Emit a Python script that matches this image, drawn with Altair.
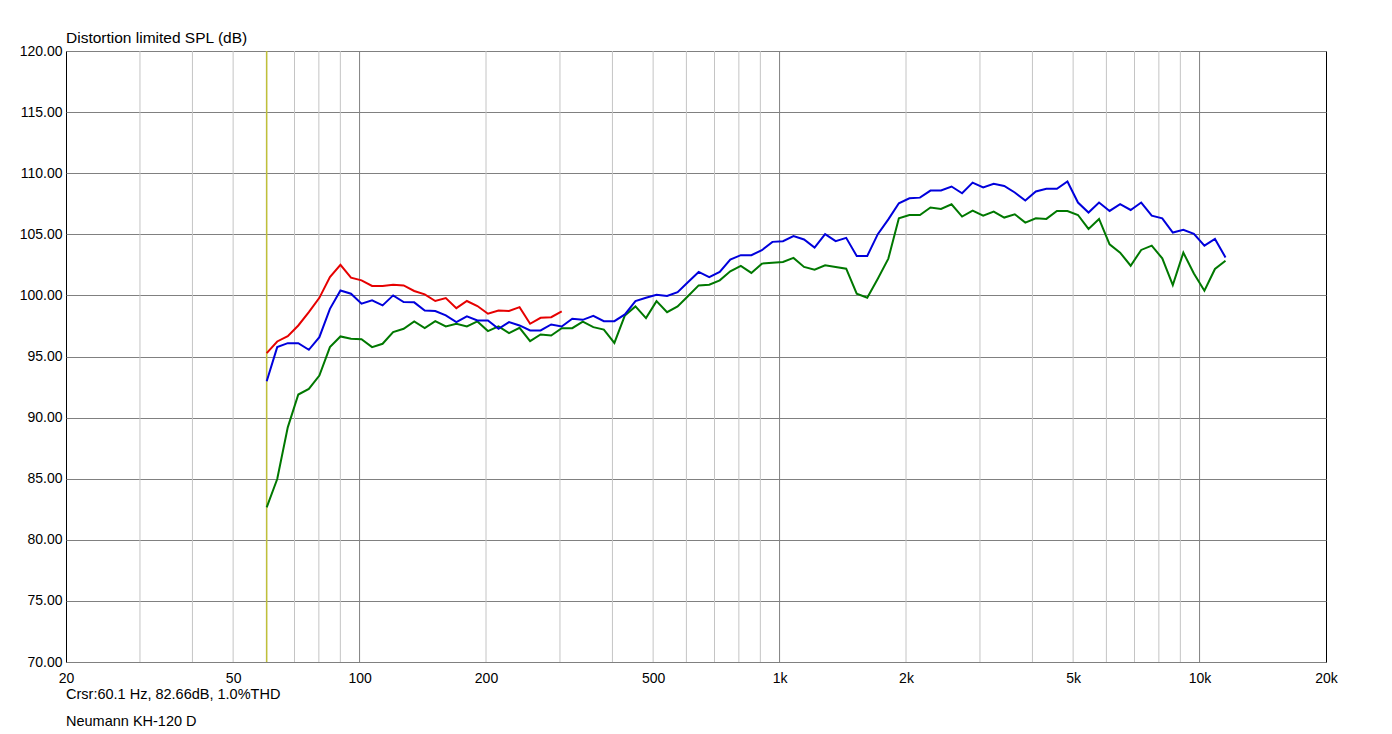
import altair as alt
import pandas as pd

# 1/12-octave analysis frequencies (Hz)
freqs = [60.1, 63.67, 67.46, 71.47, 75.72, 80.22, 85.0, 90.05, 95.4, 101.08,
         107.09, 113.45, 120.2, 127.35, 134.92, 142.94, 151.44, 160.44, 170.0, 180.1,
         190.8, 202.15, 214.2, 226.9, 240.4, 254.7, 269.8, 285.9, 302.9, 320.9,
         340.0, 360.2, 381.6, 404.3, 428.3, 453.8, 480.8, 509.4, 539.7, 571.8,
         605.8, 641.8, 680.0, 720.4, 763.2, 808.6, 856.7, 907.6, 961.6, 1018.8,
         1079.4, 1143.6, 1211.6, 1283.6, 1360.0, 1440.9, 1526.5, 1617.3, 1713.5, 1815.4,
         1923.3, 2037.7, 2158.8, 2287.2, 2423.2, 2567.3, 2720.0, 2881.7, 3053.1, 3234.6,
         3426.9, 3630.7, 3846.6, 4075.4, 4317.7, 4574.4, 4846.4, 5134.6, 5439.9, 5763.4,
         6106.1, 6469.2, 6853.9, 7261.5, 7693.3, 8150.7, 8635.4, 9148.9, 9692.9, 10269.3,
         10880.0, 11527.0]

red_spl = [95.27, 96.23, 96.67, 97.54, 98.63, 99.8, 101.5, 102.5, 101.45, 101.23,
           100.77, 100.77, 100.87, 100.82, 100.36, 100.08, 99.54, 99.78, 98.96, 99.54,
           99.13, 98.5, 98.77, 98.72, 99.04, 97.68, 98.17, 98.22, 98.69]

blue_spl = [92.98, 95.77, 96.09, 96.09, 95.55, 96.58, 98.9, 100.4, 100.14, 99.32,
            99.59, 99.18, 100.0, 99.45, 99.43, 98.77, 98.72, 98.36, 97.81, 98.28,
            97.95, 97.95, 97.27, 97.81, 97.54, 97.13, 97.13, 97.62, 97.46, 98.09,
            98.0, 98.33, 97.89, 97.89, 98.44, 99.53, 99.81, 100.05, 99.95, 100.27,
            101.1, 101.92, 101.5, 101.92, 102.93, 103.29, 103.29, 103.7, 104.38, 104.44,
            104.85, 104.58, 103.92, 105.01, 104.44, 104.71, 103.23, 103.23, 105.01, 106.22,
            107.54, 107.95, 108.0, 108.58, 108.58, 108.91, 108.36, 109.23, 108.83, 109.13,
            108.96, 108.42, 107.76, 108.5, 108.72, 108.72, 109.32, 107.6, 106.78, 107.6,
            106.91, 107.46, 106.99, 107.6, 106.53, 106.31, 105.14, 105.36, 105.03, 104.07,
            104.62, 103.11]

green_spl = [82.65, 84.97, 89.2, 91.89, 92.35, 93.44, 95.77, 96.64, 96.45, 96.42,
             95.77, 96.04, 97.0, 97.27, 97.87, 97.32, 97.9, 97.46, 97.68, 97.46,
             97.87, 97.08, 97.46, 96.91, 97.35, 96.26, 96.8, 96.72, 97.32, 97.32,
             97.86, 97.4, 97.2, 96.11, 98.36, 99.1, 98.14, 99.53, 98.63, 99.1,
             99.95, 100.82, 100.88, 101.23, 101.97, 102.41, 101.84, 102.6, 102.68, 102.74,
             103.07, 102.33, 102.11, 102.47, 102.33, 102.19, 100.14, 99.81, 101.37, 103.01,
             106.31, 106.58, 106.58, 107.19, 107.08, 107.46, 106.45, 106.94, 106.53, 106.86,
             106.37, 106.64, 105.96, 106.31, 106.26, 106.91, 106.91, 106.58, 105.44, 106.26,
             104.18, 103.5, 102.43, 103.72, 104.07, 103.03, 100.85, 103.5, 101.8, 100.38,
             102.16, 102.84]

minor_grid = [30, 40, 50, 60, 70, 80, 90, 200, 300, 400, 500, 600, 700, 800, 900,
              2000, 3000, 4000, 5000, 6000, 7000, 8000, 9000]
major_grid = [100, 1000, 10000]
x_ticks = [20, 50, 100, 200, 500, 1000, 2000, 5000, 10000, 20000]
y_ticks = [70, 75, 80, 85, 90, 95, 100, 105, 110, 115, 120]
cursor_freq = [60.1]

title_text = "Distortion limited SPL (dB)"
cursor_text = "Crsr:60.1 Hz, 82.66dB, 1.0%THD"
device_text = "Neumann KH-120 D"

FONT = "Liberation Sans"
W, H = 1260, 611

xscale = alt.Scale(type="log", domain=[20, 20000], nice=False, zero=False)
yscale = alt.Scale(domain=[70, 120], nice=False, zero=False)

xaxis = alt.Axis(values=x_ticks, title=None, grid=False, domain=False, ticks=False,
                 labelExpr="datum.value >= 1000 ? (datum.value/1000) + 'k' : '' + datum.value",
                 labelFont=FONT, labelFontSize=14, labelColor="#000000", labelPadding=9,
                 labelFlush=False, labelOverlap=False)
yaxis = alt.Axis(values=y_ticks, title=None, grid=True, gridColor="#808080", gridWidth=1,
                 gridOpacity=1, domain=False, ticks=False, format=".2f",
                 labelFont=FONT, labelFontSize=14, labelColor="#000000", labelPadding=4,
                 labelFlush=False, labelOverlap=False)

X = lambda: alt.X("f:Q", scale=xscale, axis=xaxis)
Y = lambda field: alt.Y(field, type="quantitative", scale=yscale, axis=yaxis)

base_axes = alt.Chart(pd.DataFrame({"f": [20.0], "spl": [70.0]})).mark_point(opacity=0).encode(
    x=X(), y=Y("spl"))

minor = alt.Chart(pd.DataFrame({"f": minor_grid})).mark_rule(color="#c4c4c4", strokeWidth=1).encode(x=X())
major = alt.Chart(pd.DataFrame({"f": major_grid})).mark_rule(color="#808080", strokeWidth=1).encode(x=X())
cursor = alt.Chart(pd.DataFrame({"f": cursor_freq})).mark_rule(color="#bfbf3a", strokeWidth=1.5).encode(x=X())


def curve(values, color):
    df = pd.DataFrame({"f": freqs[:len(values)], "spl": values})
    return alt.Chart(df).mark_line(color=color, strokeWidth=2, clip=True).encode(
        x=X(), y=Y("spl"), order="f:Q")


green = curve(green_spl, "#007800")
blue = curve(blue_spl, "#0000dc")
red = curve(red_spl, "#e60000")


def label(text, ypix, size):
    return alt.Chart(pd.DataFrame({"t": [text]})).mark_text(
        align="left", baseline="middle", font=FONT, fontSize=size, color="#000000"
    ).encode(x=alt.value(0), y=alt.value(ypix), text="t:N")


chart = alt.layer(
    base_axes, minor, major, cursor, green, blue, red,
    label(title_text, -13, 15.5),
    label(cursor_text, 644, 14.5),
    label(device_text, 671, 14.5),
).properties(
    width=W, height=H,
    autosize=alt.AutoSizeParams(type="none"),
    padding={"left": 58, "top": 43, "right": 58, "bottom": 70},
    background="#ffffff",
).configure_view(stroke="#000000", strokeWidth=1)

chart.save("out.html", embed_options={"renderer": "svg", "actions": False})
